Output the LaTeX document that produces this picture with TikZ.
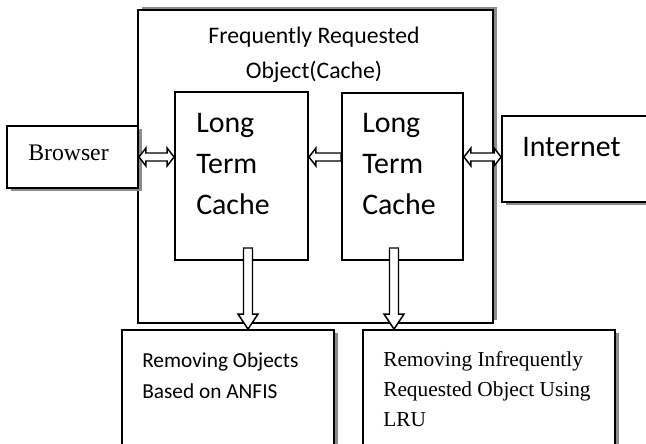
\documentclass[tikz,border=0pt]{standalone}
\usepackage{fontspec}
\setmainfont{Carlito}
\newfontfamily\tms{Liberation Serif}
\usetikzlibrary{calc,shadows}
\begin{document}
\begin{tikzpicture}[x=0.75pt,y=-0.75pt,
  box/.style={draw, line width=1.4pt, fill=white, inner sep=0pt},
  shad/.style={drop shadow={shadow xshift=3pt,shadow yshift=-2.25pt,fill=gray!90,opacity=1}},
  shadup/.style={drop shadow={shadow xshift=3pt,shadow yshift=2.25pt,fill=gray!90,opacity=1}},
  blk/.style={draw, fill=white, line width=1.1pt, line join=miter},
  txt/.style={inner sep=0pt, align=left, anchor=west},
  sanslg/.style={font=\fontsize{22.4}{30.75}\selectfont},
  sanssm/.style={font=\fontsize{16}{23.25}\selectfont},
  serif/.style={font=\tms\fontsize{16}{22.5}\selectfont}]
\useasboundingbox (0,0) rectangle (646,443);

% boxes
\node[box, shadup, minimum width=266.25pt, minimum height=234.75pt] (outer) at (315.5,166.5) {};
\node[box, minimum width=99.75pt, minimum height=126pt] (cacheL) at (241.5,176) {};
\node[box, minimum width=90.75pt, minimum height=125.25pt] (cacheR) at (402.5,176.5) {};
\node[box, shad, minimum width=98.25pt, minimum height=46.5pt] (browser) at (72.5,157) {};
\node[box, shad, minimum width=118.5pt, minimum height=64.5pt] (internet) at (581,159) {};
\node[box, shad, minimum width=159pt, minimum height=97.5pt] (anfis) at (228,395) {};
\node[box, shad, minimum width=189pt, minimum height=97.5pt] (lru) at (489,395) {};

% texts
\node[inner sep=0pt, align=center, font=\fontsize{17.8}{26.25}\selectfont] (title) at (314,55) {Frequently Requested\\Object(Cache)};
\node[txt, sanslg] (tL) at (196,164) {Long\\Term\\Cache};
\node[txt, sanslg] (tR) at (362,164) {Long\\Term\\Cache};
\node[txt, font=\tms\fontsize{17.8}{20}\selectfont] (tB) at (28,153) {Browser};
\node[txt, sanslg] (tI) at (522,147) {Internet};
\node[txt, sanssm] (tA) at (142,376) {Removing Objects\\Based on ANFIS};
\node[txt, serif] (tU) at (383,389) {Removing Infrequently\\Requested Object Using\\LRU};

% connection points
\coordinate (y0) at (0,157);
\coordinate (a1) at (browser.east |- y0);
\coordinate (a2) at (cacheL.west |- y0);
\coordinate (b1) at (cacheR.west |- y0);
\coordinate (b2) at (cacheL.east |- y0);
\coordinate (c1) at (cacheR.east |- y0);
\coordinate (c2) at (internet.west |- y0);
\coordinate (d1) at (248,248);
\coordinate (d2) at (d1 |- anfis.north);
\coordinate (e1) at (394,248);
\coordinate (e2) at (e1 |- lru.north);

% double arrows (browser <-> cache, cache <-> internet)
\foreach \p/\q in {a1/a2, c1/c2}{
  \draw[blk] (\p) -- ($(\p)+(7,-9)$) -- ($(\p)+(7,-4)$) -- ($(\q)+(-7,-4)$) -- ($(\q)+(-7,-9)$)
    -- (\q) -- ($(\q)+(-7,9)$) -- ($(\q)+(-7,4)$) -- ($(\p)+(7,4)$) -- ($(\p)+(7,9)$) -- cycle;
}
% single arrow right cache -> left cache
\draw[blk] (b1) -- ($(b1)+(0,-4)$) -- ($(b2)+(7,-4)$) -- ($(b2)+(7,-9)$) -- (b2)
  -- ($(b2)+(7,9)$) -- ($(b2)+(7,4)$) -- ($(b1)+(0,4)$) -- cycle;
% down arrows
\foreach \p/\q in {d1/d2, e1/e2}{
  \draw[blk] ($(\p)+(-4.5,0)$) -- ($(\q)+(-4.5,-15)$) -- ($(\q)+(-10,-15)$) -- (\q)
    -- ($(\q)+(10,-15)$) -- ($(\q)+(4.5,-15)$) -- ($(\p)+(4.5,0)$) -- cycle;
}
\end{tikzpicture}
\end{document}
